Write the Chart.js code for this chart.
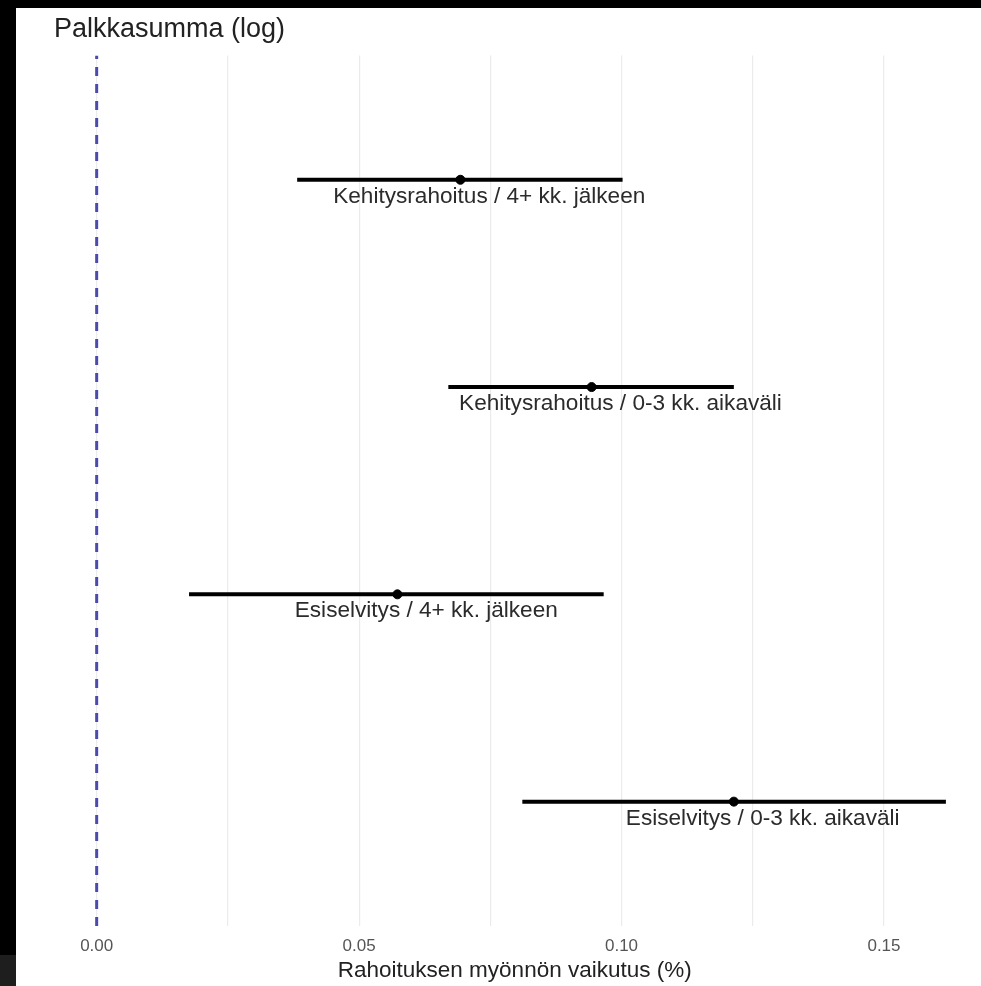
<!DOCTYPE html>
<html>
<head>
<meta charset="utf-8">
<script src="https://cdn.jsdelivr.net/npm/chart.js@4"></script>
<style>
  html, body { margin: 0; padding: 0; background: #000; }
  body { width: 981px; height: 986px; position: relative; overflow: hidden; }
  #chart { position: absolute; left: 16px; top: 8px; background: #fff; }
  #corner { position: absolute; left: 0; top: 955px; width: 16px; height: 31px; background: #1e1e1e; }
</style>
</head>
<body>
<div id="corner"></div>
<canvas id="chart" width="965" height="978"></canvas>
<script>
// Rivit ylhäältä alas
const categories = [
    'Kehitysrahoitus / 4+ kk. jälkeen',
    'Kehitysrahoitus / 0-3 kk. aikaväli',
    'Esiselvitys / 4+ kk. jälkeen',
    'Esiselvitys / 0-3 kk. aikaväli'
];
const estimates = [0.0693, 0.0943, 0.0573, 0.1214];
const lowerCI = [0.0382, 0.0670, 0.0176, 0.0811];
const upperCI = [0.1002, 0.1214, 0.0966, 0.1618];

const majorTicks = [0, 0.05, 0.10, 0.15];
const minorTicks = [0.025, 0.075, 0.125];
const refLine = 0;

const titleText = 'Palkkasumma (log)';
const xTitle = 'Rahoituksen myönnön vaikutus (%)';

const fontFamily = '"Liberation Sans", Arial, Helvetica, sans-serif';
const labelNudge = 0.0055;

// y-arvo jokaiselle riville (ylin = suurin)
function rowY(i) {
    return categories.length - i;
}

var datasets = [];

// luottamusvälit
categories.forEach(function(cat, i) {
    datasets.push({
        type: 'line',
        label: cat,
        data: [{ x: lowerCI[i], y: rowY(i) }, { x: upperCI[i], y: rowY(i) }],
        borderColor: '#000',
        borderWidth: 4,
        pointRadius: 0,
        order: 2
    });
});

// piste-estimaatit
datasets.push({
    type: 'scatter',
    label: 'estimaatti',
    data: estimates.map(function(v, i) { return { x: v, y: rowY(i) }; }),
    backgroundColor: '#000',
    borderColor: '#000',
    pointRadius: 4.5,
    order: 1
});

// nollaviiva
datasets.push({
    type: 'line',
    label: 'nolla',
    data: [{ x: refLine, y: 0.4 }, { x: refLine, y: 4.6 }],
    borderColor: '#4b4bab',
    borderWidth: 3,
    borderDash: [9, 8],
    pointRadius: 0,
    order: 0
});

const rowLabels = {
    id: 'rowLabels',
    afterDatasetsDraw(chart) {
        const ctx = chart.ctx;
        const xs = chart.scales.x;
        const ys = chart.scales.y;
        ctx.save();
        ctx.font = '22.6px ' + fontFamily;
        ctx.fillStyle = '#2b2b2b';
        ctx.textAlign = 'center';
        ctx.textBaseline = 'alphabetic';
        categories.forEach(function(cat, i) {
            const px = xs.getPixelForValue(estimates[i] + labelNudge);
            const py = ys.getPixelForValue(rowY(i)) + 23;
            ctx.fillText(cat, px, py);
        });
        ctx.restore();
    }
};

const gridValues = majorTicks.concat(minorTicks).sort(function(a, b) { return a - b; });

new Chart(document.getElementById('chart'), {
    type: 'scatter',
    data: { datasets: datasets },
    options: {
        responsive: false,
        animation: false,
        layout: { padding: { left: 38, right: 0, top: 0, bottom: 0 } },
        plugins: {
            legend: { display: false },
            tooltip: { enabled: false },
            title: {
                display: true,
                text: titleText,
                align: 'start',
                color: '#222',
                font: { family: fontFamily, size: 27, weight: 'normal' },
                padding: { top: 5, bottom: 10 }
            }
        },
        scales: {
            x: {
                type: 'linear',
                min: -0.00813,
                max: 0.16744,
                afterBuildTicks: function(scale) {
                    scale.ticks = gridValues.map(function(v) { return { value: v }; });
                },
                afterFit: function(scale) {
                    scale.height = 60;
                },
                ticks: {
                    autoSkip: false,
                    maxRotation: 0,
                    padding: 10,
                    color: '#555',
                    font: { family: fontFamily, size: 17 },
                    callback: function(v) {
                        return majorTicks.indexOf(v) >= 0 ? v.toFixed(2) : '';
                    }
                },
                grid: {
                    color: '#ebebeb',
                    lineWidth: 1.2,
                    drawTicks: false
                },
                border: { display: false },
                title: {
                    display: true,
                    text: xTitle,
                    color: '#222',
                    font: { family: fontFamily, size: 22.5 },
                    padding: { top: 0, bottom: 2 }
                }
            },
            y: {
                type: 'linear',
                min: 0.4,
                max: 4.6,
                display: false
            }
        }
    },
    plugins: [rowLabels]
});
</script>
</body>
</html>
